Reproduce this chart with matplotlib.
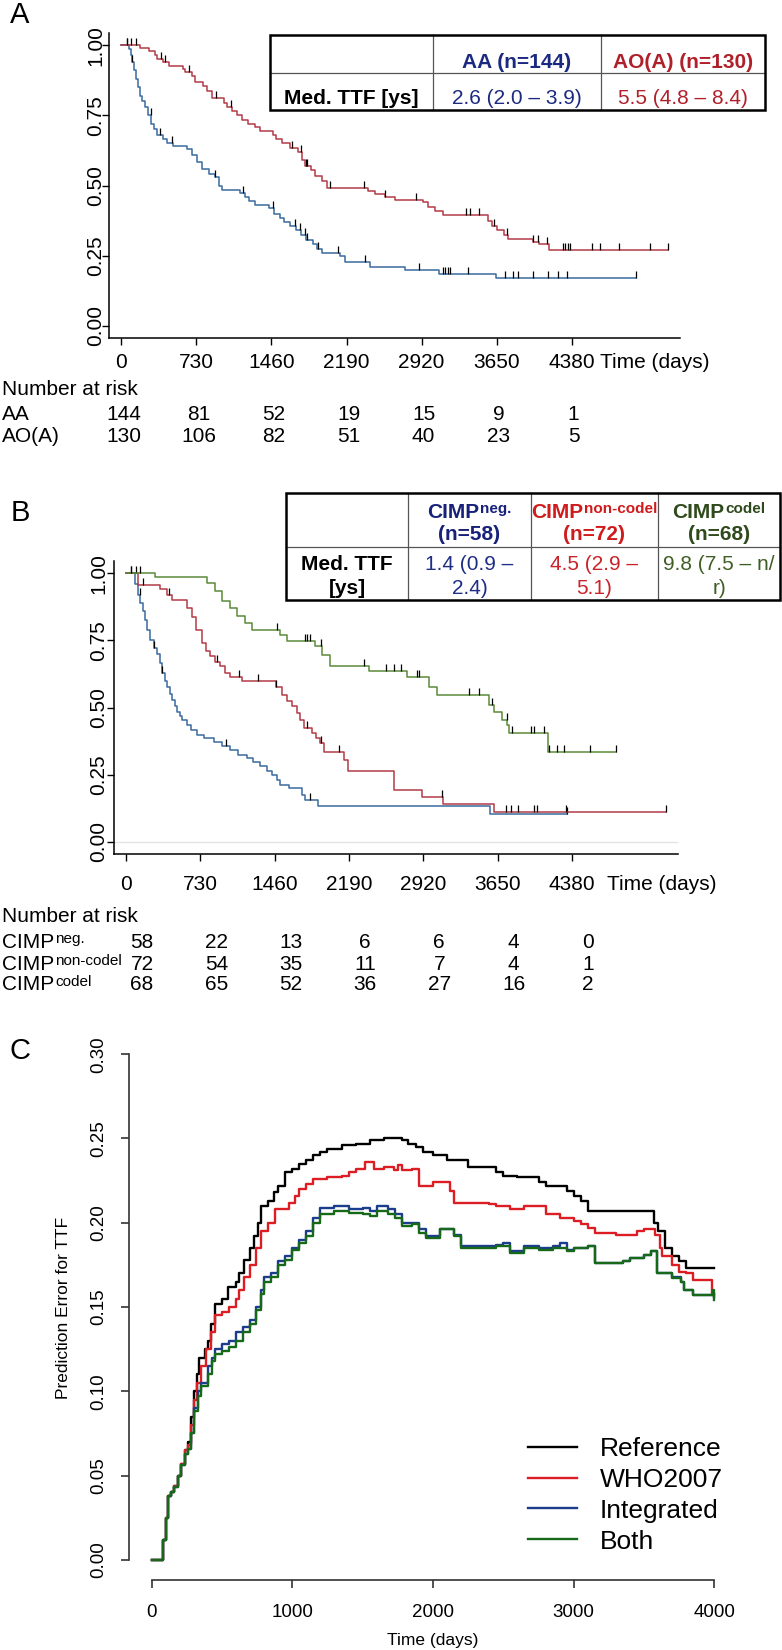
import numpy as np
import matplotlib
matplotlib.use("Agg")
import matplotlib.pyplot as plt
from matplotlib.path import Path
from matplotlib.patches import Rectangle
from matplotlib.transforms import blended_transform_factory, offset_copy

plt.rcParams['font.family'] = ['Liberation Sans', 'DejaVu Sans']

W, H = 782, 1650

# ---------------- data: panel A ----------------
aa_t = [0, 73, 90, 107, 125, 140, 160, 180, 200, 230, 260, 290, 320, 350, 400, 440, 500, 640,
        690, 740, 780, 850, 910, 950, 975, 1150, 1200, 1240, 1300, 1440, 1480, 1540, 1580, 1640,
        1700, 1750, 1800, 1860, 1900, 1950, 2130, 2175, 2420, 2760, 3090, 3640]
aa_s = [1.0, 0.986, 0.965, 0.94, 0.91, 0.88, 0.85, 0.82, 0.80, 0.78, 0.75, 0.72, 0.70, 0.68,
        0.665, 0.65, 0.64, 0.63, 0.61, 0.585, 0.56, 0.54, 0.53, 0.50, 0.485, 0.475, 0.46, 0.445,
        0.43, 0.42, 0.40, 0.385, 0.37, 0.355, 0.34, 0.325, 0.305, 0.29, 0.275, 0.26, 0.25, 0.228,
        0.21, 0.198, 0.186, 0.169]
aa_end = 5010
aa_cens = [58, 107, 287, 375, 496, 910, 1178, 1470, 1689, 1737, 1786, 1810, 1908, 2103, 2370,
           2896, 3125, 3149, 3173, 3198, 3368, 3733, 3806, 3855, 4001, 4147, 4244, 4332, 5008]

ao_t = [0, 180, 270, 330, 350, 400, 460, 600, 620, 690, 720, 790, 830, 880, 1000, 1030, 1080,
        1120, 1170, 1230, 1300, 1350, 1470, 1500, 1560, 1640, 1720, 1760, 1790, 1840, 1880, 1950,
        2000, 2400, 2470, 2560, 2660, 2930, 2980, 3050, 3130, 3570, 3610, 3650, 3720, 3760, 4000,
        4060, 4160]
ao_s = [1.0, 0.99, 0.98, 0.965, 0.95, 0.94, 0.925, 0.915, 0.905, 0.89, 0.87, 0.855, 0.835, 0.81,
        0.795, 0.78, 0.765, 0.75, 0.735, 0.72, 0.71, 0.695, 0.68, 0.665, 0.65, 0.635, 0.62, 0.59,
        0.57, 0.555, 0.535, 0.515, 0.49, 0.48, 0.47, 0.46, 0.45, 0.44, 0.425, 0.41, 0.395, 0.375,
        0.355, 0.34, 0.325, 0.31, 0.30, 0.29, 0.27]
ao_end = 5315
ao_cens = [58, 92, 141, 384, 423, 657, 920, 1066, 1655, 1752, 1796, 1810, 2029, 2360, 2565, 2871,
           3353, 3392, 3480, 3626, 3748, 4001, 4049, 4137, 4293, 4317, 4341, 4366, 4575, 4658,
           4843, 5144, 5315]

risk_times = [0, 730, 1460, 2190, 2920, 3650, 4380]
risk_a = {"AA": [144, 81, 52, 19, 15, 9, 1],
          "AO(A)": [130, 106, 82, 51, 40, 23, 5]}

# ---------------- data: panel B ----------------
neg_t = [0, 90, 120, 140, 165, 186, 210, 235, 270, 309, 330, 358, 380, 407, 430, 456, 480, 505,
         530, 554, 600, 642, 700, 770, 862, 940, 1019, 1100, 1190, 1250, 1313, 1380, 1436, 1480,
         1509, 1600, 1730, 1760, 1886, 3577]
neg_s = [1.0, 0.96, 0.92, 0.89, 0.86, 0.826, 0.79, 0.75, 0.72, 0.70, 0.665, 0.628, 0.60, 0.578,
         0.55, 0.528, 0.505, 0.485, 0.47, 0.454, 0.435, 0.417, 0.398, 0.386, 0.37, 0.355, 0.342,
         0.325, 0.311, 0.297, 0.283, 0.265, 0.25, 0.23, 0.212, 0.2, 0.175, 0.156, 0.134, 0.104]
neg_end = 4327
neg_cens = [49, 137, 274, 358, 980, 1803, 4327]

nc_t = [0, 115, 333, 400, 456, 603, 652, 690, 750, 790, 823, 870, 921, 970, 1019, 1142, 1475,
        1530, 1580, 1632, 1680, 1705, 1750, 1830, 1870, 1901, 1940, 2146, 2180, 2636, 2906, 3116,
        3616]
nc_s = [1.0, 0.957, 0.94, 0.92, 0.90, 0.87, 0.838, 0.79, 0.74, 0.71, 0.69, 0.67, 0.653, 0.63,
        0.615, 0.597, 0.578, 0.547, 0.525, 0.504, 0.48, 0.454, 0.423, 0.404, 0.385, 0.367, 0.336,
        0.305, 0.265, 0.194, 0.166, 0.141, 0.113]
nc_end = 5307
nc_cens = [98, 171, 421, 897, 1107, 1298, 1475, 1779, 1916, 2097, 3102, 3729, 3778, 3846, 4008,
           4033, 4317, 5307]

cd_t = [0, 284, 799, 870, 946, 1020, 1093, 1165, 1240, 1509, 1583, 1852, 1925, 1999, 2391, 2759,
        2979, 3053, 3567, 3616, 3690, 3740, 3763, 4141]
cd_s = [1.0, 0.985, 0.963, 0.932, 0.895, 0.87, 0.839, 0.814, 0.789, 0.77, 0.746, 0.727, 0.696,
        0.653, 0.634, 0.615, 0.578, 0.547, 0.51, 0.485, 0.454, 0.435, 0.404, 0.336]
cd_end = 4817
cd_cens = [49, 137, 1485, 1754, 1779, 1803, 1916, 2342, 2553, 2636, 2700, 2857, 2881, 3371, 3469,
           3592, 3739, 3788, 3974, 4008, 4106, 4155, 4229, 4302, 4562, 4817]

risk_b = [("neg.", [58, 22, 13, 6, 6, 4, 0]),
          ("non-codel", [72, 54, 35, 11, 7, 4, 1]),
          ("codel", [68, 65, 52, 36, 27, 16, 2])]

# ---------------- data: panel C ----------------
ref_t = [0, 82, 100, 120, 135, 160, 190, 210, 240, 260, 280, 300, 320, 340, 380, 400, 420, 450,
         500, 540, 600, 620, 660, 700, 730, 760, 780, 830, 870, 900, 950, 1000, 1050, 1100, 1150,
         1200, 1250, 1350, 1450, 1550, 1650, 1780, 1820, 1880, 1930, 2000, 2100, 2250, 2450, 2500,
         2600, 2750, 2800, 2950, 3000, 3050, 3100, 3570, 3600, 3650, 3700, 3750, 3800, 4000]
ref_v = [0.0, 0.012, 0.025, 0.038, 0.04, 0.044, 0.05, 0.057, 0.065, 0.07, 0.085, 0.10, 0.11,
         0.12, 0.125, 0.13, 0.14, 0.152, 0.155, 0.162, 0.165, 0.17, 0.178, 0.185, 0.192, 0.20,
         0.21, 0.213, 0.218, 0.222, 0.23, 0.232, 0.235, 0.237, 0.24, 0.242, 0.244, 0.246, 0.247,
         0.249, 0.25, 0.249, 0.247, 0.245, 0.242, 0.24, 0.237, 0.233, 0.23, 0.228, 0.227, 0.224,
         0.222, 0.219, 0.216, 0.213, 0.207, 0.2, 0.195, 0.185, 0.18, 0.177, 0.173, 0.173]

who_t = [0, 82, 100, 120, 135, 160, 190, 210, 240, 260, 280, 300, 320, 350, 390, 420, 450, 500,
         550, 600, 620, 660, 700, 740, 780, 830, 880, 980, 1020, 1050, 1100, 1150, 1250, 1350,
         1400, 1450, 1520, 1580, 1650, 1720, 1750, 1780, 1850, 1900, 2000, 2120, 2150, 2400, 2450,
         2550, 2650, 2800, 2900, 3000, 3050, 3100, 3150, 3300, 3450, 3500, 3580, 3610, 3630, 3700,
         3750, 3800, 3850, 3985, 4000]
who_v = [0.0, 0.012, 0.025, 0.038, 0.04, 0.044, 0.05, 0.057, 0.065, 0.068, 0.08, 0.095, 0.105,
         0.115, 0.125, 0.135, 0.145, 0.147, 0.15, 0.155, 0.16, 0.168, 0.175, 0.185, 0.195, 0.2,
         0.208, 0.212, 0.216, 0.22, 0.223, 0.226, 0.227, 0.228, 0.23, 0.232, 0.236, 0.232, 0.233,
         0.231, 0.234, 0.231, 0.232, 0.222, 0.224, 0.219, 0.212, 0.211, 0.21, 0.208, 0.21, 0.205,
         0.203, 0.201, 0.199, 0.197, 0.194, 0.193, 0.195, 0.196, 0.193, 0.185, 0.18, 0.175, 0.171,
         0.17, 0.166, 0.158, 0.158]

int_t = [0, 82, 100, 120, 135, 160, 190, 210, 240, 260, 280, 300, 330, 350, 400, 430, 450, 500,
         550, 600, 650, 700, 740, 780, 800, 850, 900, 950, 1000, 1050, 1100, 1150, 1200, 1300,
         1400, 1500, 1550, 1600, 1680, 1730, 1780, 1850, 1900, 1950, 2050, 2150, 2200, 2450, 2500,
         2550, 2650, 2750, 2850, 2900, 2950, 3000, 3100, 3150, 3350, 3400, 3500, 3550, 3590, 3700,
         3760, 3780, 3850, 3990, 4000]
int_v = [0.0, 0.012, 0.025, 0.038, 0.04, 0.043, 0.05, 0.056, 0.063, 0.066, 0.075, 0.09, 0.1,
         0.105, 0.115, 0.12, 0.125, 0.128, 0.13, 0.135, 0.138, 0.142, 0.15, 0.16, 0.168, 0.17,
         0.177, 0.18, 0.185, 0.19, 0.195, 0.203, 0.209, 0.21, 0.208, 0.209, 0.207, 0.21, 0.208,
         0.205, 0.2, 0.2, 0.196, 0.192, 0.196, 0.193, 0.186, 0.187, 0.188, 0.183, 0.186, 0.185,
         0.186, 0.188, 0.184, 0.185, 0.186, 0.176, 0.177, 0.179, 0.181, 0.183, 0.17, 0.168, 0.165,
         0.16, 0.157, 0.158, 0.156]

both_t = int_t
both_v = [0.0, 0.012, 0.025, 0.038, 0.04, 0.043, 0.05, 0.056, 0.063, 0.066, 0.075, 0.088, 0.097,
          0.103, 0.11, 0.118, 0.122, 0.124, 0.126, 0.13, 0.135, 0.14, 0.148, 0.158, 0.165, 0.168,
          0.175, 0.178, 0.184, 0.188, 0.192, 0.2, 0.205, 0.207, 0.206, 0.205, 0.204, 0.207, 0.205,
          0.203, 0.198, 0.199, 0.194, 0.191, 0.196, 0.192, 0.185, 0.186, 0.186, 0.182, 0.185,
          0.184, 0.185, 0.185, 0.183, 0.185, 0.186, 0.176, 0.177, 0.179, 0.181, 0.183, 0.17, 0.167,
          0.165, 0.16, 0.157, 0.16, 0.154]

# ---------------- figure ----------------
fig = plt.figure(figsize=(W / 100, H / 100), dpi=100)


def box(l, t, r, b):
    return [l / W, 1 - b / H, (r - l) / W, (b - t) / H]


ov = fig.add_axes([0, 0, 1, 1], zorder=5)
ov.set_xlim(0, W)
ov.set_ylim(H, 0)
ov.axis('off')

tick_mark = Path([(0, 0), (0, 1)], [Path.MOVETO, Path.LINETO])

BLUE_KM = '#3a6b9f'
RED_KM = '#b33a46'
GREEN_KM = '#5a8a38'


def km(ax, t, s, end, cens, color):
    tt = list(t) + [end]
    ss = list(s) + [s[-1]]
    ax.step(tt, ss, where='post', color=color, lw=1.1)
    idx = np.searchsorted(t, cens, side='right') - 1
    ax.plot(cens, np.array(s)[idx], ls='none', marker=tick_mark, ms=10,
            mec='black', mew=0.9, mfc='none')


def km_axes(rect, xlim, ylim, xpad, ypad):
    ax = fig.add_axes(rect)
    ax.set_xlim(*xlim)
    ax.set_ylim(*ylim)
    for sp in ['top', 'right']:
        ax.spines[sp].set_visible(False)
    for sp in ['left', 'bottom']:
        ax.spines[sp].set_linewidth(1.1)
    ax.set_xticks(risk_times)
    ax.set_yticks([0, 0.25, 0.5, 0.75, 1.0])
    ax.set_yticklabels(['0.00', '0.25', '0.50', '0.75', '1.00'], rotation=90, va='center')
    ax.tick_params(axis='x', direction='out', length=5, width=1, labelsize=15, pad=xpad)
    ax.tick_params(axis='y', direction='out', length=5, width=1, labelsize=15, pad=ypad)
    return ax


sup_items = []


def sup_text(x, y, base, sup, size, supsize, color, weight, center=False):
    t = ov.text(x, y, base, fontsize=size, color=color, weight=weight, ha='left', va='baseline')
    s = ov.annotate(sup, xy=(1, 1), xycoords=t, xytext=(0.6, 0.5), textcoords='offset points',
                    fontsize=supsize, color=color, weight=weight, ha='left', va='top')
    if center:
        sup_items.append((t, s, x))
    return t


# ---------------- panel A ----------------
axA = km_axes(box(109, 33, 680, 338), (-121, 5435), (-0.043, 1.043), 5.8, -2.5)
km(axA, aa_t, aa_s, aa_end, aa_cens, BLUE_KM)
km(axA, ao_t, ao_s, ao_end, ao_cens, RED_KM)
ov.text(600, 368, 'Time (days)', fontsize=15, ha='left', va='baseline')
ov.text(20, 15, 'A', fontsize=21, ha='center', va='center')

ov.text(2, 395, 'Number at risk', fontsize=15, ha='left', va='baseline')
trA = offset_copy(blended_transform_factory(axA.transData, ov.transData), fig=fig, x=2, y=0,
                  units='dots')
for row_y, (name, vals) in zip([420.5, 441.5], risk_a.items()):
    ov.text(2, row_y, name, fontsize=15, ha='left', va='baseline')
    for tm, v in zip(risk_times, vals):
        ov.text(tm, row_y, str(v), transform=trA, fontsize=15, ha='center', va='baseline')

# table A
NAVY = '#1b2a80'
DRED = '#b0202a'
xa = [270, 433, 601, 765]
ya = [35, 73, 110]
ov.add_patch(Rectangle((xa[0], ya[0]), xa[-1] - xa[0], ya[-1] - ya[0], facecolor='white',
                       edgecolor='none', zorder=1))
for x in xa[1:-1]:
    ov.plot([x, x], [ya[0], ya[-1]], color='#555555', lw=0.9, zorder=2)
ov.plot([xa[0], xa[-1]], [ya[1], ya[1]], color='#555555', lw=0.9, zorder=2)
ov.add_patch(Rectangle((xa[0], ya[0]), xa[-1] - xa[0], ya[-1] - ya[0], facecolor='none',
                       edgecolor='black', lw=1.8, zorder=3))
cxa = [(xa[i] + xa[i + 1]) / 2 for i in range(3)]
ov.text(cxa[1], 62, 'AA (n=144)', fontsize=15, weight='bold', color=NAVY, ha='center', va='center')
ov.text(cxa[2], 62, 'AO(A) (n=130)', fontsize=15, weight='bold', color=DRED, ha='center',
        va='center')
ov.text(cxa[0], 99, 'Med. TTF [ys]', fontsize=15, weight='bold', ha='center', va='center')
ov.text(cxa[1], 99, '2.6 (2.0 \u2013 3.9)', fontsize=15, color=NAVY, ha='center', va='center')
ov.text(cxa[2], 99, '5.5 (4.8 \u2013 8.4)', fontsize=15, color=DRED, ha='center', va='center')

# ---------------- panel B ----------------
axB = km_axes(box(114, 561, 678, 854), (-118, 5422), (-0.045, 1.045), 10, -1)
axB.axhline(0, color='#e4e4e4', lw=1, zorder=0)
km(axB, neg_t, neg_s, neg_end, neg_cens, BLUE_KM)
km(axB, nc_t, nc_s, nc_end, nc_cens, RED_KM)
km(axB, cd_t, cd_s, cd_end, cd_cens, GREEN_KM)
ov.text(607, 890, 'Time (days)', fontsize=15, ha='left', va='baseline')
ov.text(20, 513, 'B', fontsize=21, ha='center', va='center')

ov.text(2, 922.5, 'Number at risk', fontsize=15, ha='left', va='baseline')
trB = offset_copy(blended_transform_factory(axB.transData, ov.transData), fig=fig, x=16, y=0,
                  units='dots')
for row_y, (name, vals) in zip([947.5, 969.5, 990.5], risk_b):
    sup_text(2, row_y, 'CIMP', name, 15, 11, 'black', 'normal')
    for tm, v in zip(risk_times, vals):
        ov.text(tm, row_y, str(v), transform=trB, fontsize=15, ha='center', va='baseline')

# table B
xb = [286, 408, 531, 658, 780]
yb = [493, 547, 600]
ov.add_patch(Rectangle((xb[0], yb[0]), xb[-1] - xb[0], yb[-1] - yb[0], facecolor='white',
                       edgecolor='none', zorder=1))
for x in xb[1:-1]:
    ov.plot([x, x], [yb[0], yb[-1]], color='#555555', lw=0.9, zorder=2)
ov.plot([xb[0], xb[-1]], [yb[1], yb[1]], color='#555555', lw=0.9, zorder=2)
ov.add_patch(Rectangle((xb[0], yb[0]), xb[-1] - xb[0], yb[-1] - yb[0], facecolor='none',
                       edgecolor='black', lw=1.8, zorder=3))
cxb = [(xb[i] + xb[i + 1]) / 2 for i in range(4)]
head_cols = ['#17217a', '#cf1b1c', '#2f4a1c']
val_cols = ['#1e2d85', '#c8242a', '#3f5e24']
heads = [('neg.', '(n=58)'), ('non-codel', '(n=72)'), ('codel', '(n=68)')]
vals_b = [('1.4 (0.9 \u2013', '2.4)'), ('4.5 (2.9 \u2013', '5.1)'), ('9.8 (7.5 \u2013 n/', 'r)')]
for i in range(3):
    sup_text(cxb[i + 1], 517.5, 'CIMP', heads[i][0], 15, 11, head_cols[i], 'bold', center=True)
    ov.text(cxb[i + 1], 535, heads[i][1], fontsize=15, weight='bold', color=head_cols[i],
            ha='center', va='center')
    ov.text(cxb[i + 1], 564, vals_b[i][0], fontsize=15, color=val_cols[i], ha='center',
            va='center')
    ov.text(cxb[i + 1], 588, vals_b[i][1], fontsize=15, color=val_cols[i], ha='center',
            va='center')
ov.text(cxb[0], 564, 'Med. TTF', fontsize=15, weight='bold', ha='center', va='center')
ov.text(cxb[0], 588, '[ys]', fontsize=15, weight='bold', ha='center', va='center')

# ---------------- panel C ----------------
axC = fig.add_axes(box(129, 1034, 737, 1580))
axC.set_xlim(-160, 4160)
axC.set_ylim(-0.012, 0.312)
for sp in ['top', 'right']:
    axC.spines[sp].set_visible(False)
axC.spines['left'].set_bounds(0, 0.3)
axC.spines['bottom'].set_bounds(0, 4000)
for sp in ['left', 'bottom']:
    axC.spines[sp].set_linewidth(1.2)
    axC.spines[sp].set_color('#333333')
axC.set_xticks([0, 1000, 2000, 3000, 4000])
axC.set_yticks([0, 0.05, 0.10, 0.15, 0.20, 0.25, 0.30])
axC.set_yticklabels(['%.2f' % v for v in axC.get_yticks()], rotation=90, va='center')
axC.tick_params(axis='x', length=5.8, width=1.2, color='#333333', labelsize=13.5, pad=11.5)
axC.tick_params(axis='y', length=5.8, width=1.2, color='#333333', labelsize=13.5, pad=9.5)

axC.step(ref_t, ref_v, where='post', color='black', lw=1.7, label='Reference')
axC.step(who_t, who_v, where='post', color='#dc1e24', lw=1.7, label='WHO2007')
axC.step(int_t, int_v, where='post', color='#1c3c8c', lw=1.7, label='Integrated')
axC.step(both_t, both_v, where='post', color='#17691a', lw=1.7, label='Both')
axC.legend(loc='upper left', bbox_to_anchor=(528, 1437), bbox_transform=ov.transData,
           frameon=False, fontsize=19, handlelength=1.86, handletextpad=0.87,
           labelspacing=0.26, borderpad=0, borderaxespad=0)

ov.text(64, 1308, 'Prediction Error for TTF', fontsize=12.5, rotation=90, ha='center',
        va='center')
ov.text(433, 1640, 'Time (days)', fontsize=12.5, ha='center', va='center')
ov.text(20, 1051, 'C', fontsize=21, ha='center', va='center')

# centre the superscripted table headers
fig.canvas.draw()
rend = fig.canvas.get_renderer()
for t, s, cx in sup_items:
    wt = t.get_window_extent(rend).width
    ws = s.get_window_extent(rend).width
    t.set_x(cx - (wt + ws + 0.8) / 2)

fig.savefig('out.png', dpi=100)
